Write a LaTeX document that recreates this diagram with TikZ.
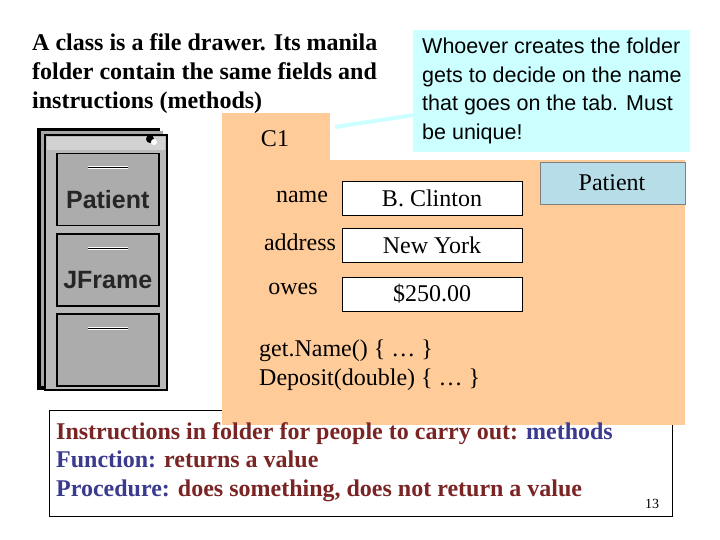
\documentclass[tikz,border=0pt]{standalone}
\usepackage{fontspec}
\setmainfont{Liberation Serif}
\newfontfamily\arial{Liberation Sans}
\begin{document}
\begin{tikzpicture}[x=1pt,y=-1pt,
  val/.style={draw=black,fill=white,minimum width=180pt,minimum height=34pt,font=\fontsize{24}{24}\selectfont},
  lab/.style={font=\fontsize{24}{24}\selectfont,anchor=base},
  drawer/.style={draw=black,line width=1.5pt,fill=gray!65},
  handle/.style={draw=white,line width=1pt,double=black,double distance=1pt}]
\useasboundingbox (0,0) rectangle (720,540);
\fill[white] (0,0) rectangle (720,540);
\definecolor{orng}{HTML}{FFCC99}
\definecolor{dred}{HTML}{7A2424}
\definecolor{dblue}{HTML}{3A3A8E}
\definecolor{cyanb}{HTML}{CCFFFF}
\definecolor{lblue}{HTML}{B7DDE8}
% bottom box
\node[draw=black,fill=white,minimum width=623pt,minimum height=106pt,anchor=north west,inner sep=0] (bot) at (49,410) {};
% title
\node[font=\bfseries\fontsize{24}{29}\selectfont,align=left,anchor=north west,inner sep=0] (title) at (32,33) {A class is a file drawer. Its manila\\folder contain the same fields and\\instructions (methods)};
% cabinet
\fill[black] (37,128) rectangle (160,390);
\fill[gray!70] (41,131) rectangle (163,386);
\draw[black,line width=1.2pt] (45,135) rectangle (167,390);
\fill[gray!55] (46,136) rectangle (166,389);
\fill[gray!35] (47,137) rectangle (165,150);
\fill[black] (150,139) circle (4);
\fill[white] (154,142) circle (3);
\node[drawer,minimum width=102pt,minimum height=72pt,anchor=north west,inner sep=0] (d1) at (56,153) {};
\node[drawer,minimum width=102pt,minimum height=72pt,anchor=north west,inner sep=0] (d2) at (56,233) {};
\node[drawer,minimum width=102pt,minimum height=72pt,anchor=north west,inner sep=0] (d3) at (56,313) {};
\foreach \d in {d1,d2,d3}{\draw[handle] ([xshift=-20pt,yshift=-15pt]\d.north) -- ([xshift=20pt,yshift=-15pt]\d.north);}
\node[font=\arial\bfseries\fontsize{25}{25}\selectfont,text=black!85] (pt) at ([yshift=-10pt]d1.center) {Patient};
\node[font=\arial\bfseries\fontsize{25}{25}\selectfont,text=black!85] (jf) at ([yshift=-10pt]d2.center) {JFrame};
% callout pointer
\coordinate (pa) at (335,127);
\draw[cyanb,line width=4pt] (pa) -- (414,115);
% folder
\fill[orng] (222,113) rectangle (330,162);
\fill[orng] (222,160) rectangle (685,425);
\node[font=\fontsize{24}{24}\selectfont] (c1) at (275,139) {C1};
% patient tab
\node[draw=gray,fill=lblue,minimum width=145pt,minimum height=42pt,anchor=north west,inner sep=0] (tab) at (540,162) {};
\node[font=\fontsize{24}{24}\selectfont] (tabt) at (612,183) {Patient};
% callout
\node[fill=cyanb,minimum width=277pt,minimum height=122pt,anchor=north west,inner sep=0] (call) at (413,30) {};
\node[font=\arial\fontsize{21.5}{28.5}\selectfont,align=left,anchor=north west,inner sep=0] (callt) at (422,38) {Whoever creates the folder\\gets to decide on the name\\that goes on the tab. Must\\be unique!};
% fields
\node[val] (v1) at (432,198) {B. Clinton};
\node[val] (v2) at (432,245.5) {New York};
\node[val] (v3) at (432,294) {\$250.00};
\node[lab] (l1) at (302,203) {name};
\node[lab] (l2) at (300,251) {address};
\node[lab] (l3) at (293,294) {owes};
\node[font=\fontsize{24}{29}\selectfont,align=left,anchor=north west,inner sep=0] (meth) at (259,340) {get.Name() \{ … \}\\Deposit(double) \{ … \}};
% bottom text
\node[font=\bfseries\fontsize{24}{28.5}\selectfont,align=left,anchor=north west,inner sep=0] (bt) at (56,422) {\textcolor{dred}{Instructions in folder for people to carry out:} \textcolor{dblue}{methods}\\\textcolor{dblue}{Function:} \textcolor{dred}{returns a value}\\\textcolor{dblue}{Procedure:} \textcolor{dred}{does something, does not return a value}};
\node[font=\fontsize{14}{14}\selectfont] (num) at (652,504) {13};
\end{tikzpicture}
\end{document}
